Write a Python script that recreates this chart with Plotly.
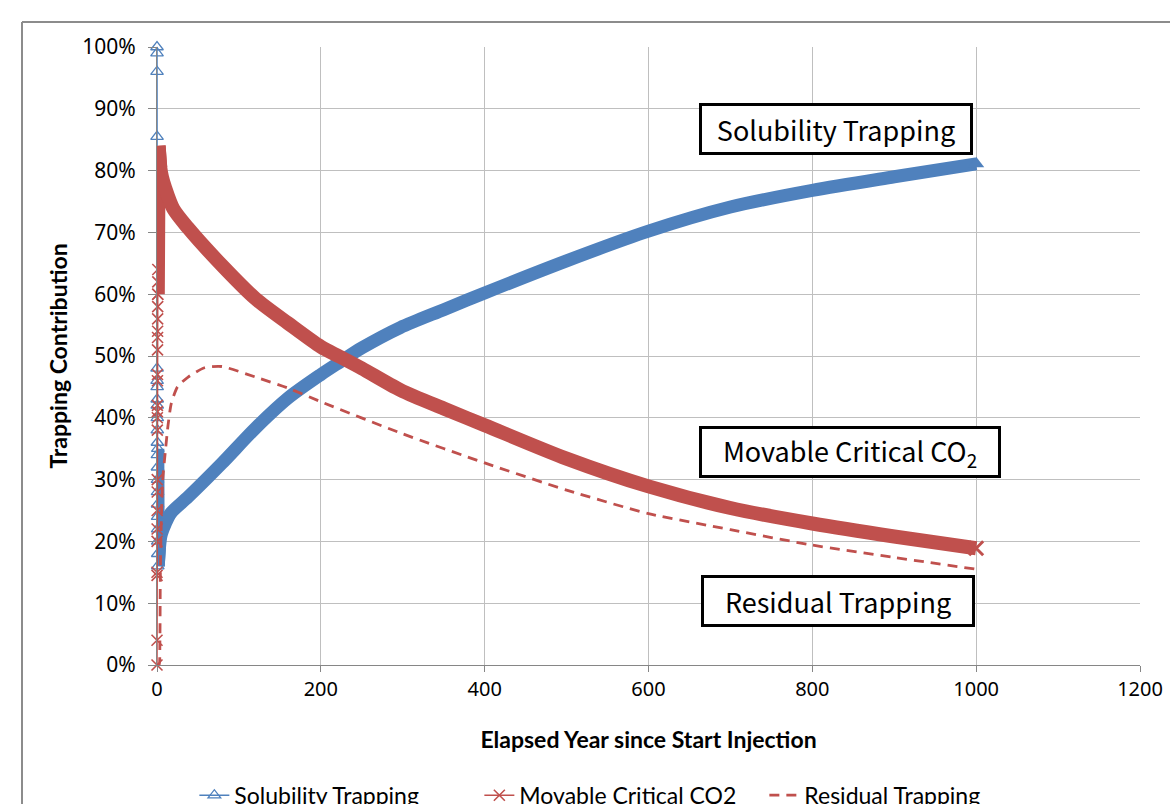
import plotly.graph_objects as go

# Years since start of injection and trapping shares (fraction of injected CO2)
sol_years = [0, 0.02, 0.04, 0.06, 0.1, 0.15, 0.2, 0.25, 0.3, 0.35, 0.4, 0.45, 0.5,
             0.55, 0.6, 0.65, 0.7, 0.75, 0.8, 0.85, 0.9, 0.95,
             1, 1.5, 3, 5, 10, 17, 38, 79, 120, 160, 200, 223, 250, 297, 350,
             400, 500, 600, 700, 800, 900, 1000]
sol_share = [1.00, 0.99, 0.96, 0.855, 0.48, 0.46, 0.45, 0.43, 0.42, 0.40, 0.38, 0.36, 0.34,
             0.32, 0.30, 0.28, 0.26, 0.24, 0.22, 0.20, 0.18, 0.16,
             0.35, 0.16, 0.19, 0.21, 0.228, 0.246, 0.272, 0.326, 0.383, 0.432, 0.470, 0.490,
             0.513, 0.546, 0.575, 0.602, 0.654, 0.702, 0.741, 0.768, 0.79, 0.811]
sol_band_start = 22

mov_years = [0, 0.02, 0.04, 0.06, 0.1, 0.15, 0.2, 0.25, 0.3, 0.35, 0.4, 0.45, 0.5,
             0.55, 0.6, 0.65, 0.7, 0.75, 0.8, 0.85, 0.9, 0.95, 0.98,
             1, 2, 4, 6, 10, 20, 38, 79, 120, 160, 200, 223, 250, 297, 350,
             400, 500, 600, 700, 800, 900, 1000]
mov_share = [0.0, 0.04, 0.15, 0.145, 0.20, 0.22, 0.25, 0.28, 0.30, 0.38, 0.40, 0.41, 0.42,
             0.46, 0.47, 0.51, 0.53, 0.54, 0.56, 0.58, 0.60, 0.62, 0.64,
             0.60, 0.84, 0.805, 0.79, 0.772, 0.738, 0.707, 0.647, 0.593, 0.553, 0.515, 0.499,
             0.480, 0.445, 0.415, 0.388, 0.334, 0.289, 0.254, 0.229, 0.208, 0.189]
mov_band_start = 23

res_years = [0, 2.5, 3.5, 4, 5, 7, 10, 13.3, 17.4, 25, 38, 58, 79, 120, 160, 200, 300,
             400, 500, 600, 700, 800, 900, 1000]
res_share = [0.0, 0.0, 0.035, 0.137, 0.22, 0.30, 0.343, 0.386, 0.423, 0.45, 0.466, 0.481,
             0.483, 0.466, 0.448, 0.426, 0.374, 0.327, 0.283, 0.245, 0.219, 0.194, 0.174, 0.155]

x_ticks = [0, 200, 400, 600, 800, 1000, 1200]

BLUE = "#4F81BD"
RED = "#C0504D"
GRID = "#BFBFBF"
AXIS = "#868686"

fig = go.Figure()


def band(x, y, color, width):
    """Dense time-step output drawn as a thick band: a straight start-up spike
    followed by the smoothed long-term curve."""
    fig.add_trace(go.Scatter(x=x[:3], y=y[:3], mode="lines",
                             line=dict(color=color, width=width),
                             showlegend=False, hoverinfo="skip", cliponaxis=False))
    fig.add_trace(go.Scatter(x=x[1:], y=y[1:], mode="lines",
                             line=dict(color=color, width=width, shape="spline", smoothing=0.8),
                             showlegend=False, hoverinfo="skip", cliponaxis=False))


band(sol_years[sol_band_start:], sol_share[sol_band_start:], BLUE, 13)
fig.add_trace(go.Scatter(
    x=sol_years[:sol_band_start + 1], y=sol_share[:sol_band_start + 1],
    mode="lines+markers", name="Solubility Trapping",
    line=dict(color=BLUE, width=1.5),
    marker=dict(symbol="triangle-up-open", size=11, color=BLUE, line=dict(width=1.3, color=BLUE)),
    cliponaxis=False))
fig.add_trace(go.Scatter(
    x=sol_years[-1:], y=sol_share[-1:], mode="markers", showlegend=False, hoverinfo="skip",
    marker=dict(symbol="triangle-up", size=14, color=BLUE), cliponaxis=False))

band(mov_years[mov_band_start:], mov_share[mov_band_start:], RED, 14)
fig.add_trace(go.Scatter(
    x=mov_years[:mov_band_start + 1], y=mov_share[:mov_band_start + 1],
    mode="lines+markers", name="Movable Critical CO2",
    line=dict(color=RED, width=1.5),
    marker=dict(symbol="x-thin", size=11, color=RED, line=dict(width=1.6, color=RED)),
    cliponaxis=False))
fig.add_trace(go.Scatter(
    x=mov_years[-1:], y=mov_share[-1:], mode="markers", showlegend=False, hoverinfo="skip",
    marker=dict(symbol="x-thin", size=14, color=RED, line=dict(width=3, color=RED)),
    cliponaxis=False))

fig.add_trace(go.Scatter(
    x=res_years, y=res_share, mode="lines", name="Residual Trapping",
    line=dict(color=RED, width=2.8, dash="10px,7px", shape="spline", smoothing=0.6),
    cliponaxis=False))

box_font = dict(family="Noto Sans CJK JP", size=27, color="black")
labels = [
    ("Solubility Trapping", 829, 0.867, 264),
    ("Movable Critical CO<sub>2</sub>", 846, 0.345, 292),
    ("Residual Trapping", 831, 0.104, 264),
]
for text, xc, yc, w in labels:
    fig.add_annotation(x=xc, y=yc, xref="x", yref="y", text=text, showarrow=False,
                       font=box_font, bgcolor="white", bordercolor="black",
                       borderwidth=3, borderpad=2, width=w, height=42)

# chart-area frame
fx = (22 - 157) / 983
fy = (665 - 22) / 618
fig.add_shape(type="line", xref="paper", yref="paper", x0=fx, y0=fy, x1=1.1, y1=fy,
              line=dict(color="#8C8C8C", width=2))
fig.add_shape(type="line", xref="paper", yref="paper", x0=fx, y0=fy, x1=fx, y1=-0.4,
              line=dict(color="#8C8C8C", width=2))

fig.update_layout(
    width=1170, height=804,
    margin=dict(l=157, r=30, t=47, b=139, autoexpand=False),
    paper_bgcolor="white", plot_bgcolor="white",
    font=dict(family="Noto Sans", color="black"),
    xaxis=dict(range=[0, 1200], tickvals=x_ticks, showgrid=True, gridcolor=GRID, gridwidth=1,
               zeroline=False, showline=True, linecolor=AXIS, linewidth=1,
               ticks="outside", ticklen=6, tickcolor=AXIS,
               tickfont=dict(family="Noto Sans", size=20),
               title=dict(text="<b>Elapsed Year since Start Injection</b>", standoff=30,
                          font=dict(family="Lato", size=23))),
    yaxis=dict(range=[0, 1], dtick=0.1, tickformat=".0%", showgrid=True, gridcolor=GRID,
               gridwidth=1, zeroline=False, showline=True, linecolor=AXIS, linewidth=1,
               ticks="outside", ticklen=8, tickcolor=AXIS, ticklabelstandoff=8,
               tickfont=dict(family="Noto Sans", size=21),
               title=dict(text="<b>Trapping Contribution</b>", standoff=8,
                          font=dict(family="Lato", size=23))),
    legend=dict(orientation="h", x=0.038, xanchor="left", y=-0.176, yanchor="top",
                font=dict(family="Lato", size=23), entrywidth=240, entrywidthmode="pixels",
                bgcolor="rgba(0,0,0,0)"),
    showlegend=True,
)

fig.write_html("out.html")
